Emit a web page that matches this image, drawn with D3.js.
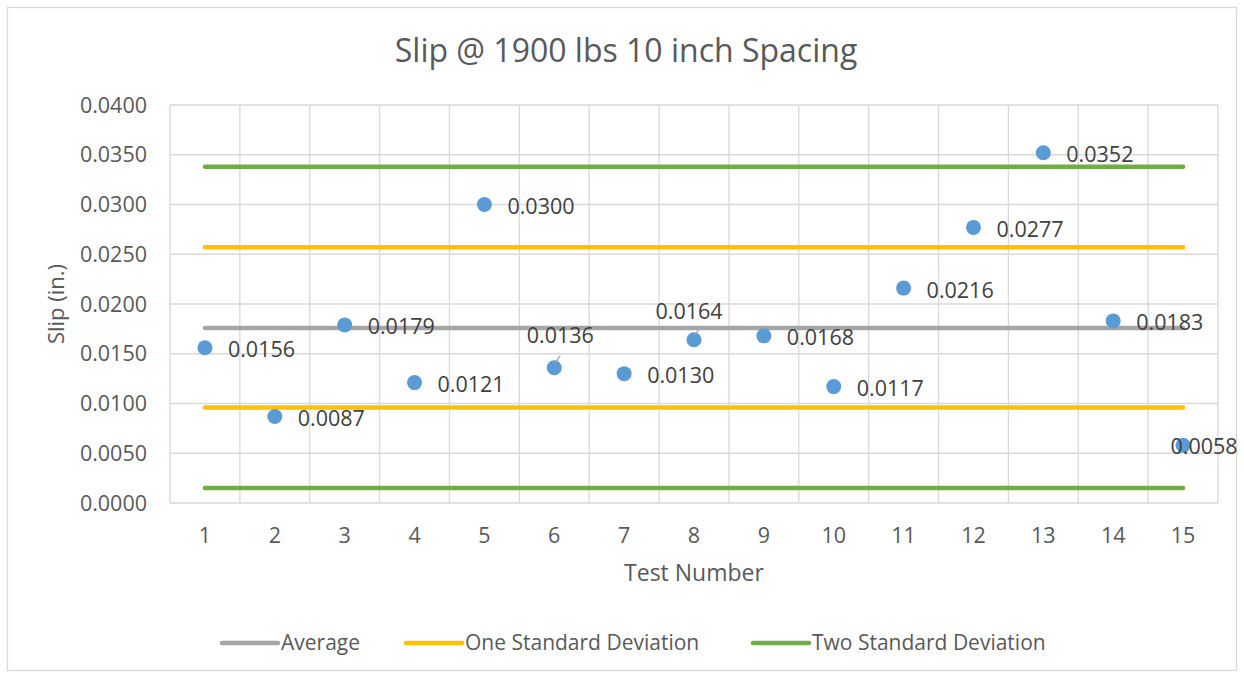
<!DOCTYPE html>
<html>
<head>
<meta charset="utf-8">
<script src="https://cdn.jsdelivr.net/npm/d3@7"></script>
<style>
  body { margin: 0; background: #fff; }
  text { font-family: "Open Sans", "Noto Sans", sans-serif; }
</style>
</head>
<body>
<svg></svg>
<script>
const tests = [1, 2, 3, 4, 5, 6, 7, 8, 9, 10, 11, 12, 13, 14, 15];
const slip = [0.0156, 0.0087, 0.0179, 0.0121, 0.0300, 0.0136, 0.0130, 0.0164,
              0.0168, 0.0117, 0.0216, 0.0277, 0.0352, 0.0183, 0.0058];
const yTicks = [0, 0.005, 0.01, 0.015, 0.02, 0.025, 0.03, 0.035, 0.04];

// reference lines
const statLines = [
  { name: "Average", value: 0.0176, color: "#A5A5A5" },
  { name: "One Standard Deviation", value: 0.0257, color: "#FFC000" },
  { name: "One Standard Deviation", value: 0.0096, color: "#FFC000" },
  { name: "Two Standard Deviation", value: 0.0338, color: "#70AD47" },
  { name: "Two Standard Deviation", value: 0.0015, color: "#70AD47" }
];
const legendItems = [
  { name: "Average", color: "#A5A5A5" },
  { name: "One Standard Deviation", color: "#FFC000" },
  { name: "Two Standard Deviation", color: "#70AD47" }
];

const width = 1244;
const height = 677;
const margin = { top: 105, right: 26, bottom: 174, left: 170 };
const DOT = "#5B9BD5";
const GRID = "#D9D9D9";
const TXT = "#595959";

const svg = d3.select("svg")
  .attr("width", width)
  .attr("height", height);

// chart border
svg.append("rect")
  .attr("x", 7.5).attr("y", 7.5)
  .attr("width", width - 15).attr("height", height - 14)
  .attr("fill", "none")
  .attr("stroke", GRID)
  .attr("stroke-width", 1.3);

const x = d3.scaleBand()
  .domain(tests)
  .range([margin.left, width - margin.right]);

const y = d3.scaleLinear()
  .domain([0, 0.04])
  .range([height - margin.bottom, margin.top]);

const cx = d => x(d) + x.bandwidth() / 2;

// horizontal gridlines
svg.append("g")
  .selectAll("line")
  .data(yTicks)
  .enter().append("line")
  .attr("x1", margin.left)
  .attr("x2", width - margin.right)
  .attr("y1", d => y(d))
  .attr("y2", d => y(d))
  .attr("stroke", GRID)
  .attr("stroke-width", 1.3);

// vertical gridlines at category edges
const edges = tests.map(d => x(d)).concat([width - margin.right]);
svg.append("g")
  .selectAll("line")
  .data(edges)
  .enter().append("line")
  .attr("x1", d => d)
  .attr("x2", d => d)
  .attr("y1", margin.top)
  .attr("y2", height - margin.bottom)
  .attr("stroke", GRID)
  .attr("stroke-width", 1.3);

// y tick labels
svg.append("g")
  .selectAll("text")
  .data(yTicks)
  .enter().append("text")
  .attr("x", margin.left - 23)
  .attr("y", d => y(d))
  .attr("dy", "0.35em")
  .attr("text-anchor", "end")
  .attr("font-size", 21.5)
  .attr("fill", TXT)
  .text(d => d3.format(".4f")(d));

// x tick labels
svg.append("g")
  .selectAll("text")
  .data(tests)
  .enter().append("text")
  .attr("x", d => cx(d))
  .attr("y", height - margin.bottom + 32)
  .attr("dy", "0.35em")
  .attr("text-anchor", "middle")
  .attr("font-size", 21.5)
  .attr("fill", TXT)
  .text(d => d);

// title
svg.append("text")
  .attr("x", 626)
  .attr("y", 51)
  .attr("dy", "0.35em")
  .attr("text-anchor", "middle")
  .attr("font-size", 32)
  .attr("fill", TXT)
  .text("Slip @ 1900 lbs 10 inch Spacing");

// axis titles
svg.append("text")
  .attr("x", (margin.left + width - margin.right) / 2)
  .attr("y", 573)
  .attr("dy", "0.35em")
  .attr("text-anchor", "middle")
  .attr("font-size", 23)
  .attr("fill", TXT)
  .text("Test Number");

svg.append("text")
  .attr("transform", `translate(56, ${(margin.top + height - margin.bottom) / 2}) rotate(-90)`)
  .attr("dy", "0.35em")
  .attr("text-anchor", "middle")
  .attr("font-size", 22)
  .attr("fill", TXT)
  .text("Slip (in.)");

// stat lines
svg.append("g")
  .selectAll("line")
  .data(statLines)
  .enter().append("line")
  .attr("x1", cx(tests[0]))
  .attr("x2", cx(tests[tests.length - 1]))
  .attr("y1", d => y(d.value))
  .attr("y2", d => y(d.value))
  .attr("stroke", d => d.color)
  .attr("stroke-width", 4.5)
  .attr("stroke-linecap", "round");

// points
svg.append("g")
  .selectAll("circle")
  .data(slip)
  .enter().append("circle")
  .attr("cx", (d, i) => cx(tests[i]))
  .attr("cy", d => y(d))
  .attr("r", 7.5)
  .attr("fill", DOT);

// data labels: most sit to the right, a few were moved by hand
const labelAbove = { 6: [6, -32], 8: [-5, -28] };
const labelCenter = { 15: true };

const labels = svg.append("g");
slip.forEach((d, i) => {
  const t = tests[i];
  const px = cx(t), py = y(d);
  if (labelAbove[t]) {
    const [ox, oy] = labelAbove[t];
    labels.append("line")
      .attr("x1", px + 1).attr("y1", py - 5)
      .attr("x2", px + 6).attr("y2", py - 12)
      .attr("stroke", "#A6A6A6")
      .attr("stroke-width", 1.2);
    labels.append("text")
      .attr("x", px + ox)
      .attr("y", py + oy)
      .attr("dy", "0.35em")
      .attr("text-anchor", "middle")
      .attr("font-size", 21.5)
      .attr("fill", "#404040")
      .text(d3.format(".4f")(d));
  } else if (labelCenter[t]) {
    labels.append("text")
      .attr("x", px + 21)
      .attr("y", py + 1)
      .attr("dy", "0.35em")
      .attr("text-anchor", "middle")
      .attr("font-size", 21.5)
      .attr("fill", "#404040")
      .text(d3.format(".4f")(d));
  } else {
    labels.append("text")
      .attr("x", px + 23)
      .attr("y", py + 2)
      .attr("dy", "0.35em")
      .attr("font-size", 21.5)
      .attr("fill", "#404040")
      .text(d3.format(".4f")(d));
  }
});

// legend
const legendX = [222, 406, 753];
const legend = svg.append("g");
legendItems.forEach((d, i) => {
  const lx = legendX[i];
  legend.append("line")
    .attr("x1", lx).attr("x2", lx + 56)
    .attr("y1", 643).attr("y2", 643)
    .attr("stroke", d.color)
    .attr("stroke-width", 4.5)
    .attr("stroke-linecap", "round");
  legend.append("text")
    .attr("x", lx + 59)
    .attr("y", 643)
    .attr("dy", "0.35em")
    .attr("font-size", 21)
    .attr("fill", TXT)
    .text(d.name);
});
</script>
</body>
</html>
